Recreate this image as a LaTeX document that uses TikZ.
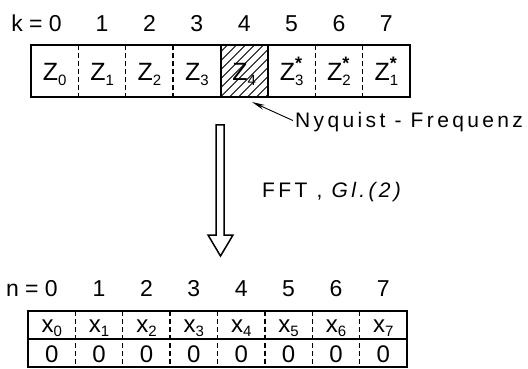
\documentclass[tikz,border=0pt]{standalone}
\usepackage{fontspec}
\setmainfont{Liberation Sans}
\newfontfamily\labfont[LetterSpace=16]{Liberation Sans}
\usetikzlibrary{arrows.meta}
\newcommand{\zsub}[1]{\raisebox{-5pt}{\fontsize{15}{15}\selectfont #1}}
\newcommand{\xsub}[1]{\raisebox{-4pt}{\fontsize{15}{15}\selectfont #1}}
\newcommand{\zst}[1]{Z\rlap{\raisebox{11pt}{\fontsize{18}{18}\selectfont\bfseries *}}\zsub{#1}}
\begin{document}
\begin{tikzpicture}[x=1pt,y=-1pt,
  frame/.style={line width=2.6pt},
  sepline/.style={line width=1.3pt, dash pattern=on 5pt off 3pt},
  solidsep/.style={line width=2pt},
  cell/.style={font=\fontsize{25}{25}\selectfont, inner sep=0pt, anchor=base},
  xcell/.style={font=\fontsize{24}{24}\selectfont, inner sep=0pt, anchor=base},
  idx/.style={font=\fontsize{23}{23}\selectfont, inner sep=0pt, anchor=base},
  note/.style={font=\labfont\fontsize{21}{21}\selectfont, inner sep=0pt, anchor=base west}]
\useasboundingbox (0,0) rectangle (528,369);
% top array
\def\tw{47.375}
\begin{scope}
  \clip (220.5,45) rectangle (267.9,97);
  \foreach \i in {-63,-54,...,63} \draw[line width=0.9pt] (220.5+\i,97) -- ++(52,-52);
\end{scope}
\foreach \c [count=\i from 0] in {Z\zsub{0},Z\zsub{1},Z\zsub{2},Z\zsub{3},Z\zsub{4},\zst{3},\zst{2},\zst{1}}
  \node[cell] (z\i) at (31+\tw*\i+\tw/2,81) {\c};
\foreach \i in {1,2,3,6,7} \draw[sepline] (31+\tw*\i,45) -- (31+\tw*\i,97);
\foreach \i in {4,5} \draw[solidsep] (31+\tw*\i,45) -- (31+\tw*\i,97);
\draw[frame] (31,45) rectangle (410,97);
% top indices
\node[idx, anchor=base east] (k0) at (62,32) {k = 0};
\foreach \i in {1,...,7} \node[idx] (k\i) at (31+\tw*\i+\tw/2,32) {\i};
% Nyquist pointer
\coordinate (nyqtip) at (252,102);
\node[note] (nyq) at (295,128) {Nyquist - Frequenz};
\draw[line width=0.9pt, -{Stealth[length=13pt,width=5pt]}] ([xshift=-2pt,yshift=2pt]nyq.west) -- (nyqtip);
% big hollow arrow
\draw[line width=1.5pt, line join=miter]
  (216,125) -- (224,125) -- (224,235) -- (233,235) -- (220.5,256) -- (208,235) -- (216,235) -- cycle;
\node[note] (fft) at (262,197) {FFT , \textit{Gl.(2)}};
% bottom array
\foreach \c [count=\i from 0] in {0,...,7}
  \node[xcell] (x\i) at (28+\tw*\i+\tw/2,332) {x\xsub{\c}};
\foreach \i in {0,...,7}
  \node[xcell] (o\i) at (28+\tw*\i+\tw/2,362) {0};
\foreach \i in {1,...,7} \draw[sepline] (28+\tw*\i,311) -- (28+\tw*\i,367);
\draw[solidsep] (28,339) -- (407,339);
\draw[frame] (28,311) rectangle (407,367);
\node[idx, anchor=base east] (n0) at (58,296) {n = 0};
\foreach \i in {1,...,7} \node[idx] (n\i) at (28+\tw*\i+\tw/2,296) {\i};
\end{tikzpicture}
\end{document}
